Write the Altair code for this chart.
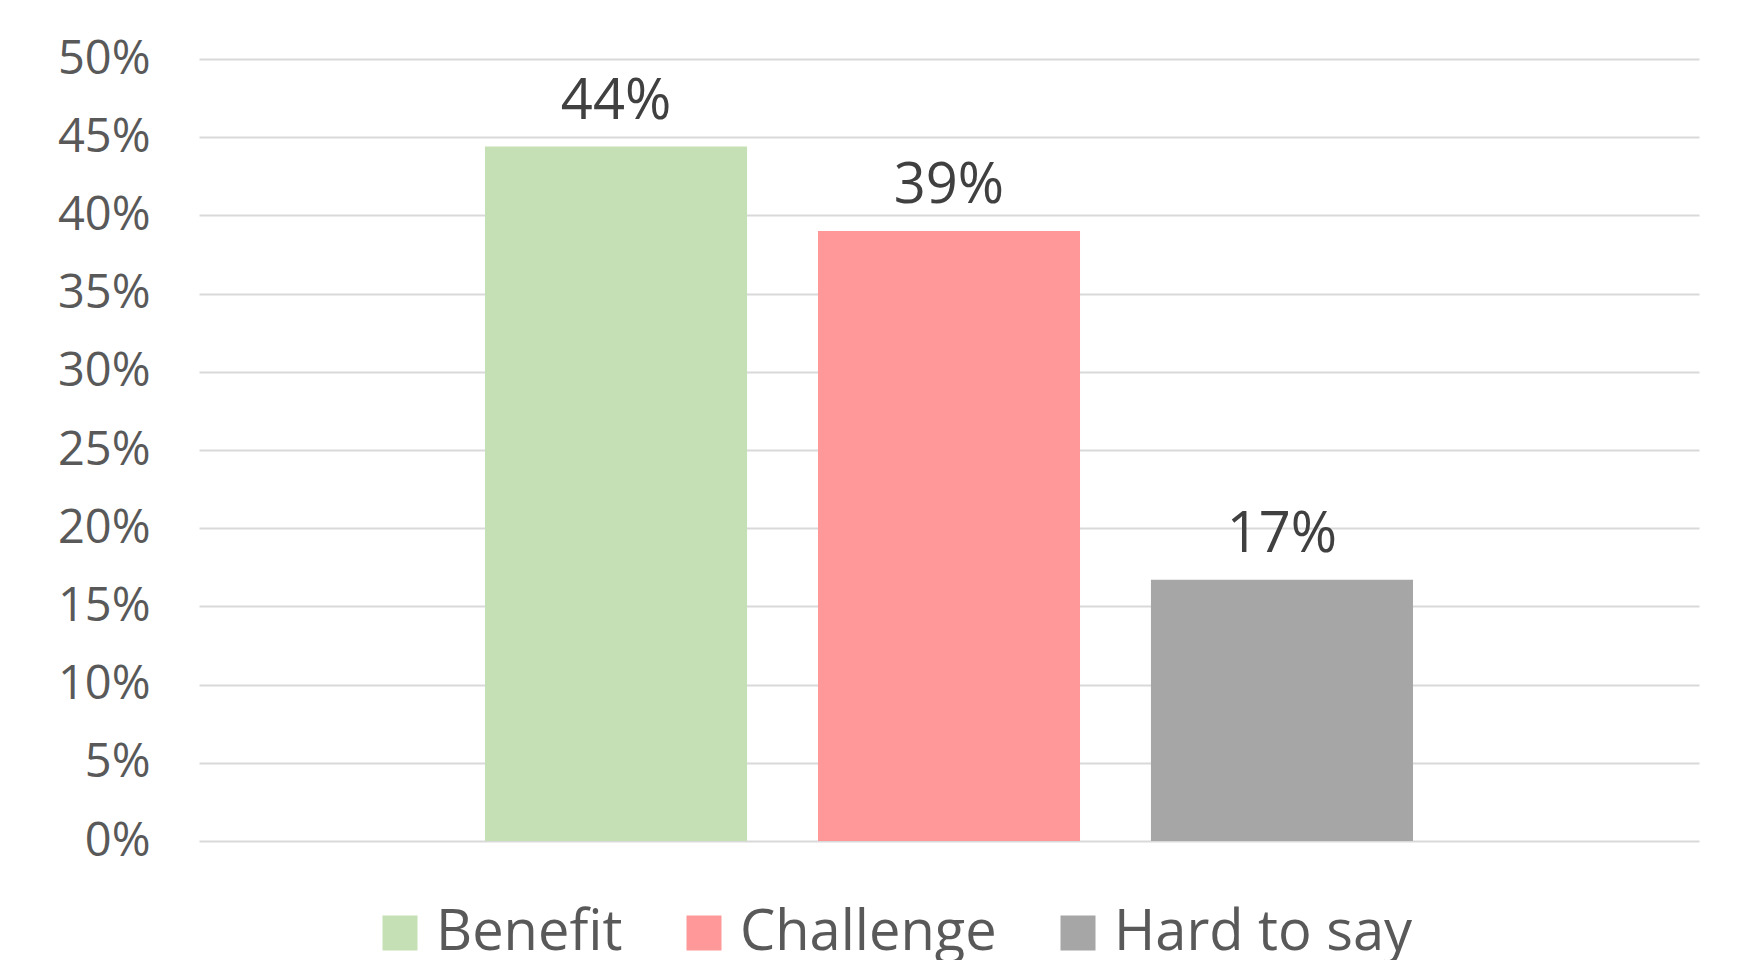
import altair as alt
import pandas as pd

categories = ["Benefit", "Challenge", "Hard to say"]
values = [0.444, 0.39, 0.167]
colors = ["#c5e0b4", "#ff9999", "#a6a6a6"]
y_ticks = [0, 0.05, 0.10, 0.15, 0.20, 0.25, 0.30, 0.35, 0.40, 0.45, 0.50]

df = pd.DataFrame({"Category": categories, "Value": values})

FONT = "Open Sans"

x_enc = alt.X(
    "Category:N",
    sort=categories,
    scale=alt.Scale(paddingInner=0.213, paddingOuter=0.859),
    axis=None,
)
y_enc = alt.Y(
    "Value:Q",
    scale=alt.Scale(domain=[0, 0.5], nice=False),
    axis=alt.Axis(
        values=y_ticks,
        format=".0%",
        title=None,
        domain=False,
        ticks=False,
        labelFontSize=47,
        labelFont=FONT,
        labelColor="#595959",
        labelPadding=49,
        grid=True,
        gridColor="#d9d9d9",
        gridWidth=2,
    ),
)

bars = alt.Chart(df).mark_bar().encode(
    x=x_enc,
    y=y_enc,
    color=alt.Color(
        "Category:N",
        sort=categories,
        scale=alt.Scale(domain=categories, range=colors),
        legend=alt.Legend(
            title=None,
            orient="none",
            direction="horizontal",
            legendX=173,
            legendY=846,
            symbolType="square",
            symbolSize=1225,
            symbolStrokeWidth=0,
            symbolOpacity=1,
            labelFontSize=56,
            labelFont=FONT,
            labelColor="#595959",
            labelOffset=8,
            columnPadding=53,
            labelLimit=0,
            padding=0,
        ),
    ),
)

labels = alt.Chart(df).mark_text(
    fontSize=56,
    font=FONT,
    color="#404040",
    baseline="alphabetic",
    dy=-28,
).encode(
    x=x_enc,
    y=alt.Y("Value:Q", scale=alt.Scale(domain=[0, 0.5], nice=False)),
    text=alt.Text("Value:Q", format=".0%"),
)

chart = (
    alt.layer(bars, labels)
    .properties(
        width=1500,
        height=782,
        autosize="none",
        background="white",
        padding={"left": 199, "top": 59, "right": 63, "bottom": 119},
    )
    .configure_view(strokeWidth=0, stroke="transparent")
)

chart.save("out.html", embed_options={"renderer": "svg", "actions": False})
